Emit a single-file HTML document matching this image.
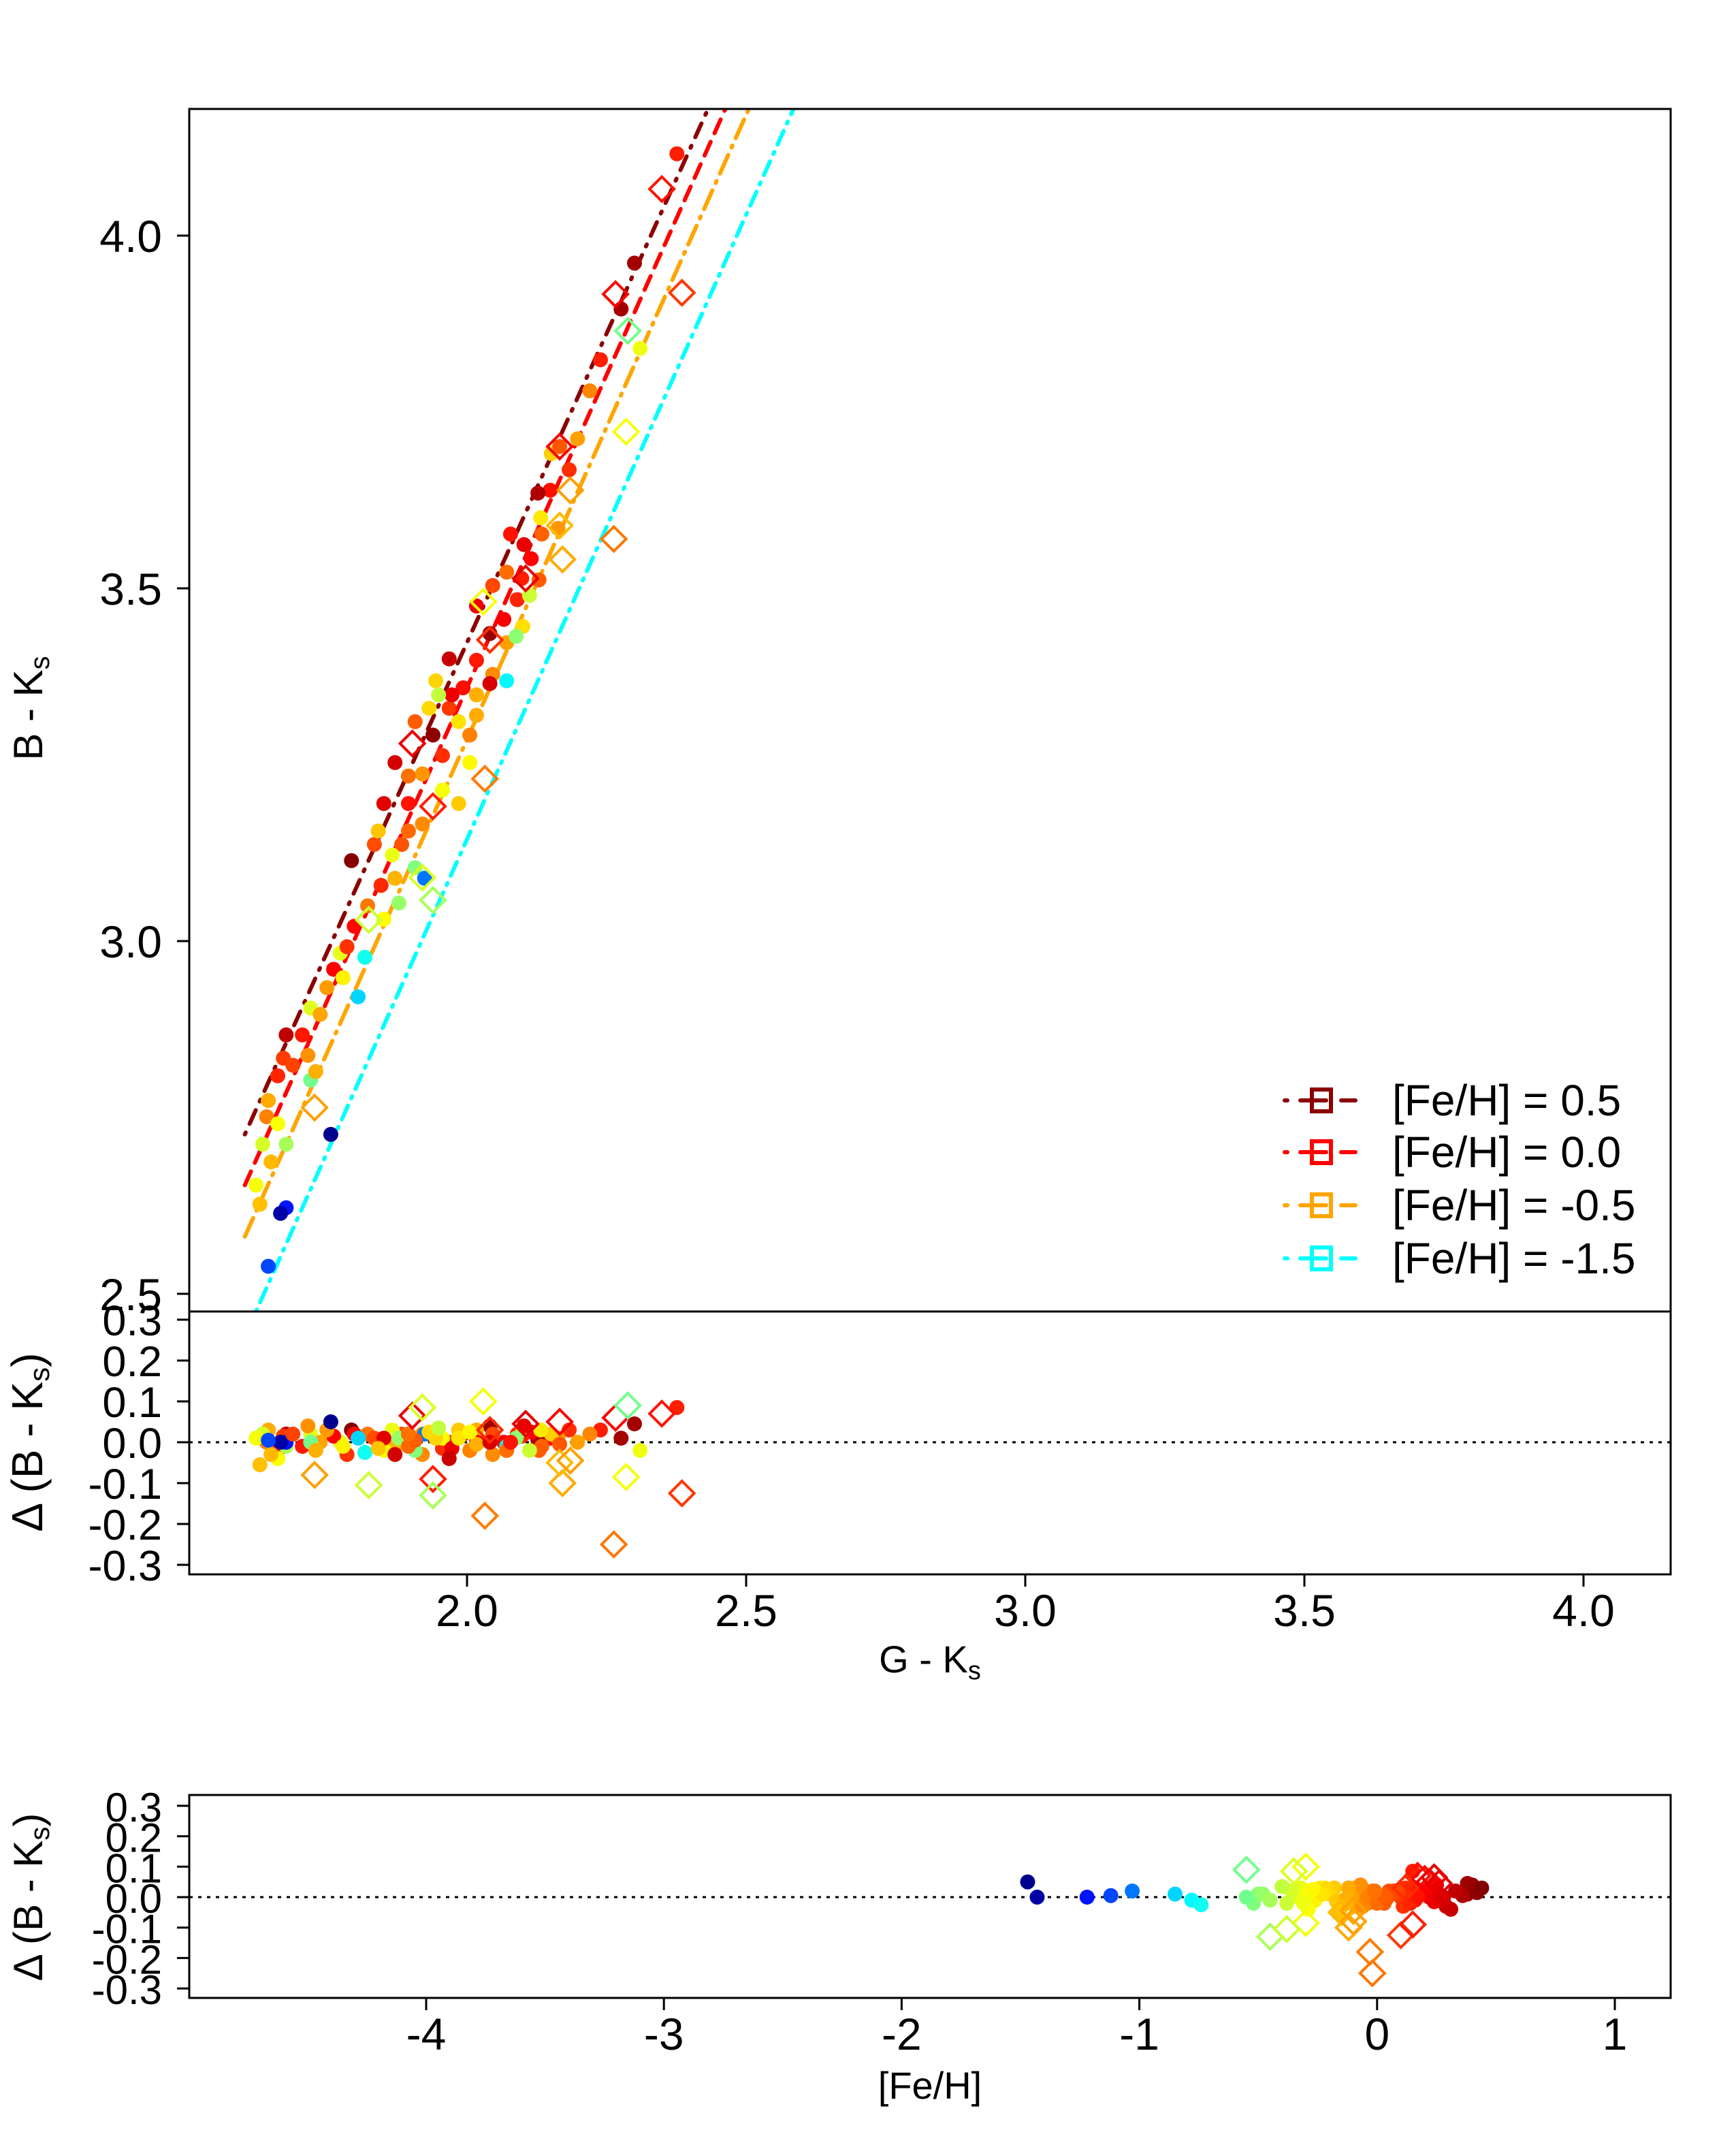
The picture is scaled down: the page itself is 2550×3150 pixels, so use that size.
<!DOCTYPE html>
<html><head><meta charset="utf-8">
<style>
html,body{margin:0;padding:0;background:#fff;}
svg{display:block;font-family:"Liberation Sans",sans-serif;}
</style></head>
<body>
<svg id="chart" width="2550" height="3150" viewBox="0 0 2550 3150" xmlns="http://www.w3.org/2000/svg">
<defs>
<clipPath id="clipMain"><rect x="278" y="160" width="2176" height="1766"/></clipPath>
</defs>
<rect x="0" y="0" width="2550" height="3150" fill="#fff"/>
<g id="lines" clip-path="url(#clipMain)"></g>
<g id="pts"></g>
<g id="frames"></g>
</svg>
<script>
// ---------- data ----------
const fGK = [2.376,2.300,2.276,2.239,2.220,2.198,2.183,2.149,2.127,2.134,2.163,2.115,2.098,2.129,2.090,2.066,2.041,2.071,2.100,2.088,2.017,2.046,1.993,2.071,1.968,2.017,2.005,1.939,1.956,1.920,1.956,1.895,1.920,1.883,1.866,1.907,1.924,1.871,1.793,1.846,1.822,1.851,1.878,1.798,1.773,1.785,1.817,1.761,1.749,1.778,1.720,1.737,1.805,1.705,1.715,1.676,1.671,1.720,1.661,1.644,1.641,1.661,1.676,1.634,1.649,1.622,1.629,1.676,1.666,1.756,1.644,1.688,1.729,1.834,1.895,1.985,2.017,2.046,2.071,2.102,2.078,2.151,2.166,2.132,2.112,1.944,1.973,1.932,1.907,1.871,1.895,1.851,1.841,1.949,1.985,2.017,2.005,2.041,1.968,2.310];
const fBK = [4.116,3.961,3.896,3.824,3.780,3.712,3.668,3.639,3.635,3.577,3.585,3.542,3.514,3.512,3.484,3.456,3.436,3.423,3.446,3.432,3.398,3.378,3.359,3.369,3.330,3.320,3.292,3.292,3.263,3.237,3.214,3.195,3.166,3.137,3.122,3.104,3.089,3.089,3.114,3.079,3.050,3.031,3.054,3.021,2.983,2.992,2.977,2.960,2.934,2.948,2.905,2.896,2.921,2.867,2.838,2.867,2.834,2.803,2.809,2.774,2.751,2.741,2.712,2.712,2.687,2.654,2.627,2.622,2.614,2.726,2.539,2.824,2.815,3.137,3.156,3.195,3.475,3.504,3.523,3.562,3.577,3.691,3.701,3.600,3.490,3.369,3.349,3.330,3.311,3.253,3.234,3.195,3.156,3.349,3.311,3.349,3.253,3.365,3.400,3.840];
const fFeH = [0.15,0.38,0.38,0.15,-0.05,-0.10,0.12,0.18,0.36,0.02,-0.08,0.20,0.15,0.03,0.14,0.22,0.40,-0.10,-0.22,-0.50,0.16,-0.06,0.18,-0.78,0.10,-0.12,-0.04,0.42,0.12,-0.08,-0.30,0.17,-0.06,0.05,-0.32,-0.52,-1.03,-0.14,0.44,0.13,-0.02,-0.28,-0.48,0.19,-0.33,0.11,-0.74,0.21,-0.09,-0.26,-0.34,-0.11,-0.85,0.16,-0.07,0.33,0.09,-0.55,0.14,-0.12,-0.04,-0.29,-0.45,-0.36,-0.15,-0.30,-0.16,-1.22,-1.43,-1.47,-1.12,0.08,-0.13,0.06,0.01,-0.18,0.23,0.07,0.00,0.25,0.17,-0.19,0.04,-0.24,-0.38,-0.20,0.24,-0.21,0.03,0.29,-0.01,0.26,-0.17,-0.40,-0.23,-0.13,-0.27,0.28,0.31,-0.31];
const fRes = [0.085,0.045,0.010,0.030,0.020,0.000,0.030,0.010,0.005,-0.010,0.010,0.025,0.015,-0.020,0.020,0.000,0.040,-0.020,0.030,0.010,0.010,-0.030,0.020,-0.010,0.000,0.030,-0.020,0.015,-0.015,0.020,0.010,0.000,-0.030,0.020,0.030,-0.020,0.020,-0.010,0.030,0.000,0.020,-0.020,0.010,0.020,0.000,-0.030,-0.025,0.015,0.030,-0.010,0.020,0.000,0.010,-0.010,0.040,0.020,0.015,0.000,-0.020,0.030,0.000,-0.040,-0.010,0.020,-0.030,0.010,-0.055,0.000,0.000,0.050,0.005,0.020,-0.020,0.010,-0.010,0.030,0.000,0.020,-0.020,0.040,0.000,0.020,-0.005,0.030,-0.020,0.010,-0.015,0.025,0.005,-0.030,0.020,0.010,-0.015,0.035,0.010,-0.005,0.025,0.000,-0.040,-0.020];
const dGK = [2.349,2.266,2.385,2.288,2.285,2.263,2.171,2.166,2.166,2.185,2.105,2.041,2.029,1.902,1.939,2.032,1.939,1.920,1.727,1.824];
const dBK = [4.066,3.917,3.919,3.865,3.722,3.570,3.541,3.589,3.701,3.639,3.514,3.427,3.481,3.280,3.191,3.230,3.058,3.090,2.764,3.030];
const dFeH = [0.17,0.20,0.10,-0.55,-0.30,-0.02,-0.12,-0.15,0.22,-0.10,0.26,0.12,-0.30,0.24,0.15,-0.03,-0.45,-0.35,-0.10,-0.38];
const dRes = [0.070,0.060,-0.125,0.090,-0.085,-0.250,-0.100,-0.050,0.050,-0.045,0.045,0.030,0.100,0.065,-0.090,-0.180,-0.130,0.085,-0.080,-0.105];
const lineFeH = [0.5,0.0,-0.5,-1.5];
const lineX0 = [1.602,1.602,1.602,1.622];
const lineY0 = [2.726,2.654,2.581,2.475];
const lineX1 = [2.432,2.463,2.505,2.585];
const lineY1 = [4.180,4.180,4.180,4.180];
const lineColors = ["#8b0000","#ff0000","#ffa500","#00ffff"];
const lineDash = ["3,14,22,14","22,14","30,12,3,12","3,12,22,12"];
const legendLabels = ["[Fe/H] = 0.5","[Fe/H] = 0.0","[Fe/H] = -0.5","[Fe/H] = -1.5"];
const mainYTicks = [2.5,3.0,3.5,4.0];
const resYTicks = [0.3,0.2,0.1,0.0,-0.1,-0.2,-0.3];
const gkTicks = [2.0,2.5,3.0,3.5,4.0];
const fehTicks = [-4,-3,-2,-1,0,1];

// ---------- scales ----------
const L=278,R=2454;
const xMain = v => 686 + (v-2.0)*820;
const yMain = v => 346 + (4.0-v)*1036;
const yRes = v => 2118 - v*600;
const xFeh = v => 626 + (v+4)*349.2;
const yRes2 = v => 2786 - v*447;

const NS="http://www.w3.org/2000/svg";
function mk(tag, attrs, parent){const e=document.createElementNS(NS,tag);for(const k in attrs)e.setAttribute(k,attrs[k]);parent.appendChild(e);return e;}
function jet(f){
  const t=Math.max(0,Math.min(1,(f+1.5)/1.95));
  const c=x=>Math.round(255*Math.max(0,Math.min(1,x)));
  return `rgb(${c(1.5-Math.abs(4*t-3))},${c(1.5-Math.abs(4*t-2))},${c(1.5-Math.abs(4*t-1))})`;
}
const svg=document.getElementById('chart');
const gL=document.getElementById('lines'), gP=document.getElementById('pts'), gF=document.getElementById('frames');

lineFeH.forEach((f,i)=>{
  const ln=mk('line',{x1:xMain(lineX0[i]),y1:yMain(lineY0[i]),x2:xMain(lineX1[i]),y2:yMain(lineY1[i]),stroke:lineColors[i],'stroke-width':6,'stroke-dasharray':lineDash[i],'stroke-linecap':'round'},gL);
  
  
});

function diamond(cx,cy,col,parent,name){
  const d=mk('polygon',{points:`${cx},${cy-18} ${cx+18},${cy} ${cx},${cy+18} ${cx-18},${cy}`,fill:'none',stroke:col,'stroke-width':4},parent);
  
  
}
function dot(cx,cy,col,parent,name){
  const c=mk('circle',{cx:cx,cy:cy,r:11,fill:col},parent);
  
  
}

const z1=mk('line',{x1:L,x2:R,y1:yRes(0),y2:yRes(0),stroke:'#000','stroke-width':3,'stroke-dasharray':'5,8'},gP);


const z2=mk('line',{x1:L,x2:R,y1:yRes2(0),y2:yRes2(0),stroke:'#000','stroke-width':3,'stroke-dasharray':'5,8'},gP);



fGK.forEach((g,i)=>{
  const col=jet(fFeH[i]);
  dot(xMain(g),yMain(fBK[i]),col,gP,'star-point');
  dot(xMain(g),yRes(fRes[i]),col,gP,'residual-point');
  dot(xFeh(fFeH[i]),yRes2(fRes[i]),col,gP,'feh-residual-point');
});
dGK.forEach((g,i)=>{
  const col=jet(dFeH[i]);
  diamond(xMain(g),yMain(dBK[i]),col,gP,'star-diamond');
  diamond(xMain(g),yRes(dRes[i]),col,gP,'residual-diamond');
  diamond(xFeh(dFeH[i]),yRes2(dRes[i]),col,gP,'feh-residual-diamond');
});

function frame(y0,y1,name){
  const r=mk('rect',{x:L,y:y0,width:R-L,height:y1-y0,fill:'none',stroke:'#000','stroke-width':3},gF);
  
  
}
frame(160,1926,'main-panel-frame');
frame(1926,2312,'residual-panel-frame');
frame(2636,2934,'feh-panel-frame');

function text(x,y,s,size,anchor,name,rot){
  const t=mk('text',{x:x,y:y,'font-size':size,'text-anchor':anchor,fill:'#000'},gF);
  if(rot)t.setAttribute('transform',`rotate(-90 ${x} ${y})`);
  t.textContent=s;
  
  
  return t;
}
mainYTicks.forEach(v=>{
  mk('line',{x1:L-18,x2:L,y1:yMain(v),y2:yMain(v),stroke:'#000','stroke-width':3},gF);
  text(238,yMain(v)+24,v.toFixed(1),66,'end','y-tick-label');
});
resYTicks.forEach(v=>{
  mk('line',{x1:L-18,x2:L,y1:yRes(v),y2:yRes(v),stroke:'#000','stroke-width':3},gF);
  text(238,yRes(v)+23,v.toFixed(1),63,'end','residual-y-tick-label');
  mk('line',{x1:L-18,x2:L,y1:yRes2(v),y2:yRes2(v),stroke:'#000','stroke-width':3},gF);
  text(238,yRes2(v)+23,v.toFixed(1),60,'end','feh-residual-y-tick-label');
});
gkTicks.forEach(v=>{
  mk('line',{x1:xMain(v),x2:xMain(v),y1:2312,y2:2330,stroke:'#000','stroke-width':3},gF);
  text(xMain(v),2388,v.toFixed(1),66,'middle','x-tick-label');
});
fehTicks.forEach(v=>{
  mk('line',{x1:xFeh(v),x2:xFeh(v),y1:2934,y2:2952,stroke:'#000','stroke-width':3},gF);
  text(xFeh(v),3010,String(v),66,'middle','feh-tick-label');
});
const yt=text(62,1040,'B - K',60,'middle','y-axis-title',true);
const s1=mk('tspan',{'font-size':40,dy:10},yt);s1.textContent='s';
const rt=text(62,2118,'Δ (B - K',64,'middle','residual-y-axis-title',true);
const s2=mk('tspan',{'font-size':42,dy:10},rt);s2.textContent='s';
const s2b=mk('tspan',{dy:-10},rt);s2b.textContent=')';
const rt2=text(62,2786,'Δ (B - K',60,'middle','feh-residual-y-axis-title',true);
const s3=mk('tspan',{'font-size':40,dy:10},rt2);s3.textContent='s';
const s3b=mk('tspan',{dy:-10},rt2);s3b.textContent=')';
const xt=text(1366,2456,'G - K',56,'middle','x-axis-title');
const s4=mk('tspan',{'font-size':38,dy:10},xt);s4.textContent='s';
text(1366,3082,'[Fe/H]',56,'middle','feh-axis-title');

const legY=[1616,1692,1770,1848];
lineFeH.forEach((f,i)=>{
  const g=mk('g',{},gF);
  
  
  const c=lineColors[i], y=legY[i];
  mk('line',{x1:1887,x2:1891,y1:y,y2:y,stroke:c,'stroke-width':6,'stroke-linecap':'round'},g);
  mk('line',{x1:1910,x2:1948,y1:y,y2:y,stroke:c,'stroke-width':6,'stroke-linecap':'round'},g);
  mk('line',{x1:1970,x2:1991,y1:y,y2:y,stroke:c,'stroke-width':6,'stroke-linecap':'round'},g);
  mk('rect',{x:1927,y:y-16,width:28,height:32,fill:'none',stroke:c,'stroke-width':6},g);
  const t=mk('text',{x:2045,y:y+22,'font-size':64,fill:'#000'},g);
  t.textContent=legendLabels[i];
});
</script>
</body></html>
